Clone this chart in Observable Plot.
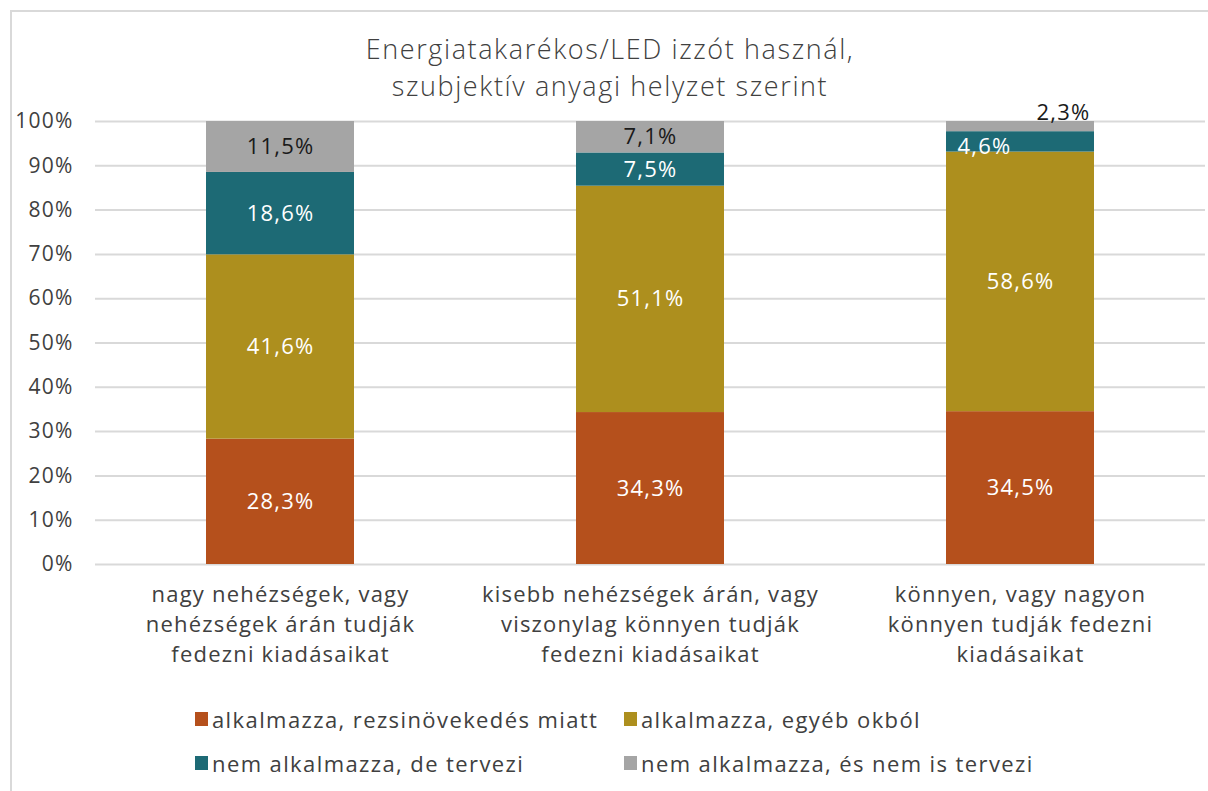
<!DOCTYPE html>
<html><head><meta charset="utf-8">
<script src="https://cdn.jsdelivr.net/npm/d3@7"></script>
<script src="https://cdn.jsdelivr.net/npm/@observablehq/plot@0.6"></script>
<style>
body{margin:0;background:#fff;font-family:"Open Sans",sans-serif;color:#404040;}
#frame{position:absolute;left:10px;top:10px;width:1210px;height:800px;border:2px solid #d9d9d9;box-sizing:border-box;}
#title{position:absolute;left:0;width:1220px;top:30px;text-align:center;font-size:27px;line-height:37px;color:#404040;font-weight:300;letter-spacing:1.6px;}
#chart{position:absolute;left:0;top:80px;}
#legend{position:absolute;left:195px;top:697px;font-size:22px;color:#404040;letter-spacing:1.4px;}
.row{display:flex;height:44px;align-items:center;}
.item{display:flex;align-items:center;}
.sw{width:13px;height:14px;margin-right:4px;}
</style></head><body>
<div id="frame"></div>
<div id="title"><div>Energiatakarékos/LED izzót használ,</div><div>szubjektív anyagi helyzet szerint</div></div>
<div id="chart"></div>
<div id="legend"></div>
<script>
const categories = [
  "nagy nehézségek, vagy\nnehézségek árán tudják\nfedezni kiadásaikat",
  "kisebb nehézségek árán, vagy\nviszonylag könnyen tudják\nfedezni kiadásaikat",
  "könnyen, vagy nagyon\nkönnyen tudják fedezni\nkiadásaikat"
];
const series = [
  "alkalmazza, rezsinövekedés miatt",
  "alkalmazza, egyéb okból",
  "nem alkalmazza, de tervezi",
  "nem alkalmazza, és nem is tervezi"
];
const colors = ["#B5501C", "#AD8F1E", "#1D6A75", "#A5A5A5"];
const labelColors = ["#ffffff", "#ffffff", "#ffffff", "#1a1a1a"];
const valuesRezsi = [28.3, 34.3, 34.5];
const valuesEgyeb = [41.6, 51.1, 58.6];
const valuesTervezi = [18.6, 7.5, 4.6];
const valuesNemTervezi = [11.5, 7.1, 2.3];
const yTicks = [0,10,20,30,40,50,60,70,80,90,100];

const seriesValues = [valuesRezsi, valuesEgyeb, valuesTervezi, valuesNemTervezi];
const data = [];
series.forEach((s, si) => categories.forEach((c, ci) => {
  data.push({cat: c, series: s, si, ci, value: seriesValues[si][ci]});
}));
const fmt = v => v.toFixed(1).replace(".", ",") + "%";
const isSpecial = d => d.ci === 2 && d.si >= 2;

const stackOpts = {x: "cat", y: "value", z: "series", order: series};
const plot = Plot.plot({
  width: 1208, height: 610,
  marginLeft: 95, marginRight: 3, marginTop: 41, marginBottom: 126,
  style: {fontFamily: "'Open Sans', sans-serif", color: "#404040", background: "transparent", letterSpacing: "1.2px"},
  x: {domain: categories, paddingInner: 0.6, paddingOuter: 0.3, label: null},
  y: {domain: [0, 100], label: null},
  color: {domain: series, range: colors},
  marks: [
    Plot.ruleY(yTicks, {stroke: "#d9d9d9", strokeWidth: 2}),
    Plot.barY(data, {x: "cat", y: "value", fill: "series", order: series}),
    Plot.text(data, Plot.stackY({...stackOpts, text: d => isSpecial(d) ? null : fmt(d.value), fill: d => labelColors[d.si], fontSize: 22})),
    Plot.text(data, Plot.stackY({...stackOpts, text: d => (d.ci === 2 && d.si === 3) ? fmt(d.value) : null, fill: "#1a1a1a", fontSize: 22, dx: 43, dy: -14})),
    Plot.text(data, Plot.stackY({...stackOpts, text: d => (d.ci === 2 && d.si === 2) ? fmt(d.value) : null, fill: "#ffffff", fontSize: 22, dx: -36, dy: 5})),
    Plot.axisY({ticks: yTicks, tickFormat: d => d + "%", tickSize: 0, tickPadding: 22, fontSize: 21, fill: "#404040"}),
    Plot.axisX({tickSize: 0, tickPadding: 16, fontSize: 22, lineHeight: 1.36, fill: "#404040"})
  ]
});
document.getElementById("chart").appendChild(plot);

const legend = document.getElementById("legend");
const rows = [[0, 1], [2, 3]];
rows.forEach(r => {
  const row = document.createElement("div");
  row.className = "row";
  r.forEach((si, k) => {
    const it = document.createElement("div");
    it.className = "item";
    if (k === 0) it.style.width = "429px";
    it.innerHTML = `<span class="sw" style="background:${colors[si]}"></span><span>${series[si]}</span>`;
    row.appendChild(it);
  });
  legend.appendChild(row);
});
</script>
</body></html>
